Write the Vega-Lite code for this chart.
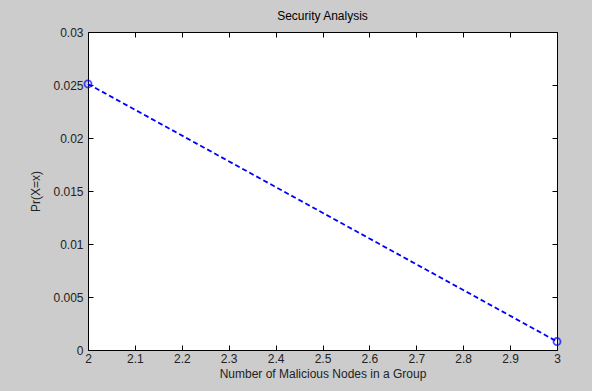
{
  "$schema": "https://vega.github.io/schema/vega-lite/v6.json",
  "width": 469,
  "height": 318,
  "autosize": {"type": "none"},
  "padding": {"left": 88, "top": 32, "right": 35, "bottom": 41},
  "background": "#cccccc",
  "title": {"text": "Security Analysis", "fontSize": 12, "fontWeight": "normal", "font": "Liberation Sans", "color": "#000000", "offset": 3},
  "data": {"values": [{"x": 2, "y": 0.0251}, {"x": 3, "y": 0.0008}]},
  "resolve": {"axis": {"x": "independent", "y": "independent"}},
  "layer": [
    {
      "mark": {"type": "line", "color": "#0000ff", "strokeDash": [5, 3], "strokeWidth": 1.8},
      "encoding": {
        "x": {"field": "x", "type": "quantitative", "scale": {"domain": [2, 3], "nice": false, "zero": false},
          "axis": {"title": "Number of Malicious Nodes in a Group", "values": [2, 2.1, 2.2, 2.3, 2.4, 2.5, 2.6, 2.7, 2.8, 2.9, 3], "format": "~g", "tickSize": -5, "labelPadding": 8, "titlePadding": 4, "grid": false, "domain": false}},
        "y": {"field": "y", "type": "quantitative", "scale": {"domain": [0, 0.03], "nice": false},
          "axis": {"title": "Pr(X=x)", "values": [0, 0.005, 0.01, 0.015, 0.02, 0.025, 0.03], "format": "~g", "tickSize": -5, "labelPadding": 10, "titlePadding": 10, "grid": false, "domain": false}}
      }
    },
    {
      "mark": {"type": "point", "shape": "circle", "filled": false, "color": "#0000ff", "size": 50, "strokeWidth": 1.8},
      "encoding": {
        "x": {"field": "x", "type": "quantitative", "axis": {"orient": "top", "values": [2, 2.1, 2.2, 2.3, 2.4, 2.5, 2.6, 2.7, 2.8, 2.9, 3], "labels": false, "title": null, "tickSize": -5, "grid": false, "domain": false}},
        "y": {"field": "y", "type": "quantitative", "axis": {"orient": "right", "values": [0, 0.005, 0.01, 0.015, 0.02, 0.025, 0.03], "labels": false, "title": null, "tickSize": -5, "grid": false, "domain": false}}
      }
    }
  ],
  "config": {
    "view": {"fill": "#ffffff", "stroke": "#000000", "strokeWidth": 1},
    "axis": {"labelFont": "Liberation Sans", "labelFontSize": 12, "labelColor": "#222222", "titleFont": "Liberation Sans", "titleFontSize": 12, "titleFontWeight": "normal", "titleColor": "#222222", "tickColor": "#000000", "labelFlush": false, "labelOverlap": false}
  }
}
